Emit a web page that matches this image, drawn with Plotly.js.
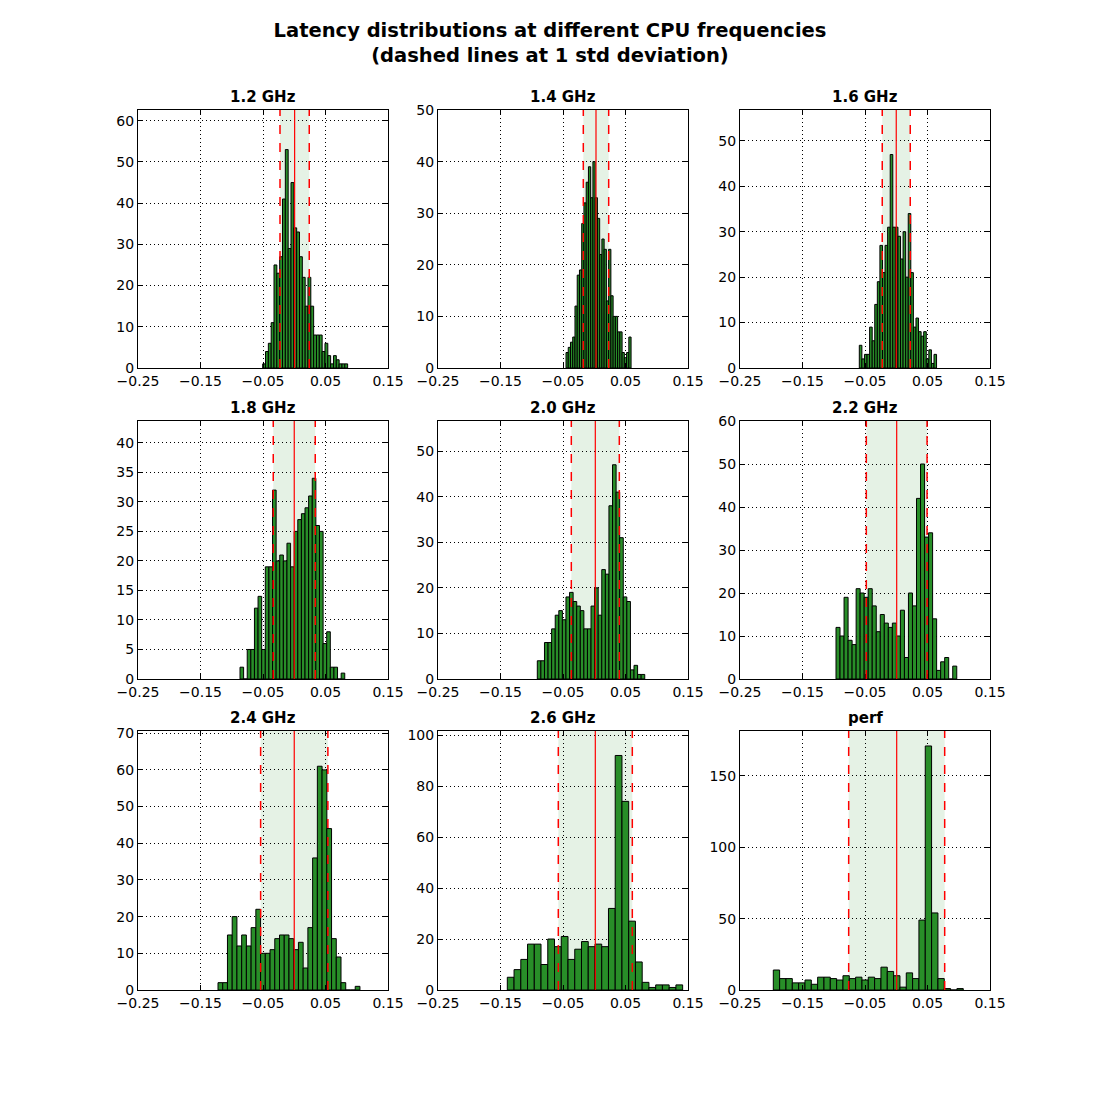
<!DOCTYPE html>
<html>
<head>
<meta charset="utf-8">
<script src="https://cdn.plot.ly/plotly-3.0.1.min.js"></script>
<style>html,body{margin:0;padding:0;background:#fff}#chart{width:1100px;height:1100px}</style>
</head>
<body>
<div id="chart"></div>
<script>
// ---- data ----
const panelTitles = ["1.2 GHz", "1.4 GHz", "1.6 GHz", "1.8 GHz", "2.0 GHz", "2.2 GHz", "2.4 GHz", "2.6 GHz", "perf"];
// left edge of first bin and bin width (latency deviation, s)
const binStart = [-0.0505, -0.0452, -0.0591, -0.0868, -0.0911, -0.0964, -0.122, -0.1391, -0.1967];
const binWidth = [0.00453, 0.00359, 0.00412, 0.00578, 0.00573, 0.00644, 0.00757, 0.01079, 0.01013];
const counts12 = [1,4,6,11,25,23,27,41,53,29,45,34,33,27,22,15,22,15,8,8,8,4,6,3,1,3,2,1,1,1];
const counts14 = [3,4,5,6,12,18,19,28,32,36,39,33,40,33,29,22,25,23,13,23,14,10,10,7,7,3,2,3,6];
const counts16 = [5,2,3,3,9,6,14,19,27,21,27,31,47,31,31,29,24,30,20,34,21,9,11,8,7,8,2,4,1,3];
const counts18 = [2,0,5,5,12,14,5,19,19,32,20,21,20,23,19,25,27,28,29,31,34,26,25,6,8,2,2,0,1];
const counts20 = [4,4,8,8,11,14,15,13,18,19,17,16,15,11,11,16,20,14,24,23,38,47,41,31,18,17,2,3,1,1];
const counts22 = [12,10,19,9,8,21,20,19,21,17,11,15,13,12,13,10,16,5,20,17,42,50,33,34,14,2,4,5,0,3];
const counts24 = [2,2,15,20,12,15,12,17,22,10,10,11,14,15,15,14,11,13,6,17,36,61,60,44,14,9,2,0,0,1];
const counts26 = [5,8,12,18,18,10,20,17,21,12,16,19,17,18,17,32,92,74,27,11,3,1,2,2,1,2];
const countsPerf = [14,8,8,5,5,7,4,9,9,8,7,10,8,9,7,9,8,16,13,10,2,12,8,49,171,54,8,1,0,1];
const allCounts = [counts12, counts14, counts16, counts18, counts20, counts22, counts24, counts26, countsPerf];
const means = [0.0006, 0.0028, 0.0, 0.0, 0.0017, 0.0007, 0.0, 0.0017, 0.0007];
const stds = [0.0234, 0.0203, 0.0224, 0.0336, 0.0384, 0.0486, 0.0538, 0.0592, 0.0768];
const xTickVals = [-0.25, -0.15, -0.05, 0.05, 0.15];
const xTickText = ["\u22120.25", "\u22120.15", "\u22120.05", "0.05", "0.15"];

// ---- layout settings ----
const yMax = [62.6, 50, 56.8, 43.7, 56.6, 60, 70.6, 101.6, 181.5];
const yDtick = [10, 10, 10, 5, 10, 10, 10, 20, 50];
const colDom = [[138, 388], [438, 688], [740, 990]];
const rowDom = [[110, 368], [421, 679], [731, 990]];
const W = 1100, H = 1100;
const font = "DejaVu Sans, Arial, sans-serif";

const traces = [];
const layout = {
  width: W, height: H,
  margin: {l: 0, r: 0, t: 0, b: 0},
  paper_bgcolor: "#fff", plot_bgcolor: "#fff",
  showlegend: false,
  font: {family: font, size: 13, color: "#000"},
  title: {
    text: "<b>Latency distributions at different CPU frequencies<br>(dashed lines at 1 std deviation)</b>",
    font: {family: font, size: 19.5, color: "#000"},
    x: 0.5, xanchor: "center", xref: "paper",
    y: 1 - 37 / H, yanchor: "middle", yref: "container"
  },
  shapes: [],
  annotations: []
};

for (let i = 0; i < 9; i++) {
  const r = Math.floor(i / 3), c = i % 3;
  const n = i + 1;
  const xa = "x" + (n === 1 ? "" : n), ya = "y" + (n === 1 ? "" : n);
  const xk = "xaxis" + (n === 1 ? "" : n), yk = "yaxis" + (n === 1 ? "" : n);
  const cnt = allCounts[i];
  const xs = cnt.map((_, j) => binStart[i] + (j + 0.5) * binWidth[i]);
  traces.push({
    type: "bar", x: xs, y: cnt, width: binWidth[i],
    xaxis: xa, yaxis: ya,
    marker: {color: "rgb(40,142,40)", line: {color: "#000", width: 1}},
    hoverinfo: "x+y"
  });
  const dx = [colDom[c][0] / W, colDom[c][1] / W];
  const dy = [1 - rowDom[r][1] / H, 1 - rowDom[r][0] / H];
  const common = {
    showgrid: true, gridcolor: "#000", griddash: "1px,3px", gridwidth: 1,
    showline: true, linecolor: "#000", linewidth: 1, mirror: "allticks",
    ticks: "inside", ticklen: 5, tickcolor: "#000", zeroline: false,
    layer: "above traces",
    tickfont: {family: font, size: 14, color: "#000"}, fixedrange: true
  };
  layout[xk] = Object.assign({
    domain: dx, anchor: ya, range: [-0.25, 0.15],
    tickvals: xTickVals, ticktext: xTickText
  }, common);
  layout[yk] = Object.assign({
    domain: dy, anchor: xa, range: [0, yMax[i]], dtick: yDtick[i], tick0: 0
  }, common);
  const m = means[i], s = stds[i];
  layout.shapes.push({type: "rect", xref: xa, yref: ya + " domain", x0: m - s, x1: m + s, y0: 0, y1: 1,
    fillcolor: "rgba(0,128,0,0.1)", line: {width: 0}, layer: "below"});
  layout.shapes.push({type: "line", xref: xa, yref: ya + " domain", x0: m, x1: m, y0: 0, y1: 1,
    line: {color: "red", width: 1.2}, layer: "above"});
  [m - s, m + s].forEach(v => layout.shapes.push({type: "line", xref: xa, yref: ya + " domain", x0: v, x1: v, y0: 0, y1: 1,
    line: {color: "red", width: 1.5, dash: "dash"}, layer: "above"}));
  layout.annotations.push({
    text: "<b>" + panelTitles[i] + "</b>", xref: "paper", yref: "paper",
    x: (dx[0] + dx[1]) / 2, y: dy[1], xanchor: "center", yanchor: "bottom", yshift: 2,
    showarrow: false, font: {family: font, size: 15, color: "#000"}
  });
}

Plotly.newPlot("chart", traces, layout, {displayModeBar: false, staticPlot: true});
</script>
</body>
</html>
